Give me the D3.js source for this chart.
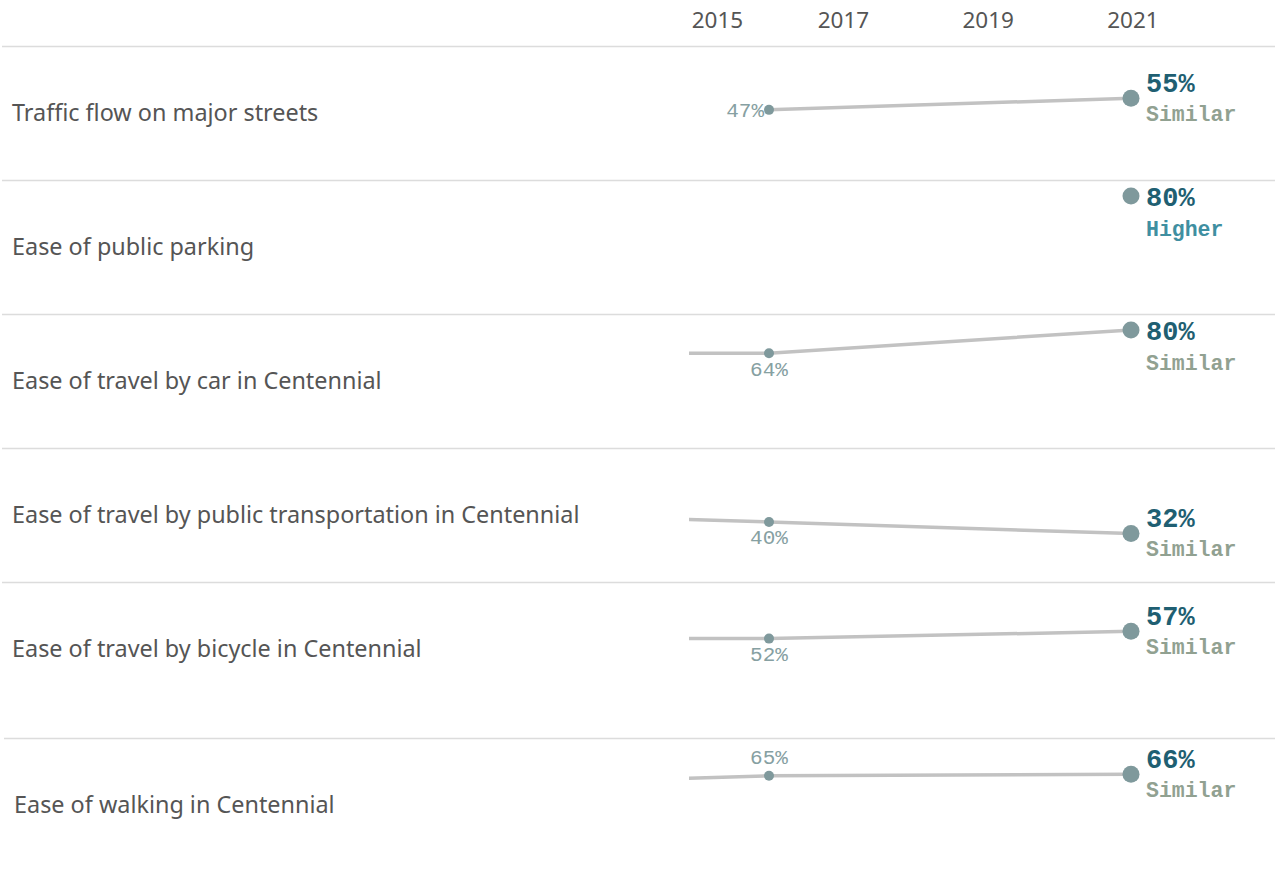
<!DOCTYPE html>
<html>
<head>
<meta charset="utf-8">
<script src="https://cdn.jsdelivr.net/npm/d3@7"></script>
<style>
  html, body { margin: 0; padding: 0; background: #fff; }
  svg { display: block; }
</style>
</head>
<body>
<svg id="chart" width="1275" height="871"></svg>
<script>
// data

const measures = [
  'Traffic flow on major streets',
  'Ease of public parking',
  'Ease of travel by car in Centennial',
  'Ease of travel by public transportation in Centennial',
  'Ease of travel by bicycle in Centennial',
  'Ease of walking in Centennial'
]
const years = [2014, 2016, 2021]
const values2014 = [null, null, 64, 43, 52, 62]
const values2016 = [47, null, 64, 40, 52, 65]
const values2021 = [55, 80, 80, 32, 57, 66]
const comparison = ['Similar', 'Higher', 'Similar', 'Similar', 'Similar', 'Similar']
const tickYears = [2015, 2017, 2019, 2021]

// layout

const W = 1275, H = 871
const HEADER = 46
const ROW_HEIGHTS = [134, 134, 134, 134, 156, 133]
const PLOT_H = 134
const PANE_LEFT = 689

const svg = d3.select('#chart')

const x = d3.scaleLinear()
  .domain([2016, 2021])
  .range([769, 1131])

let tops = []
ROW_HEIGHTS.reduce( (acc, h) => { tops.push(acc); return acc + h }, HEADER)

const fmt = (v) => v + '%'

svg.append('defs').append('clipPath').attr('id', 'pane')
  .append('rect').attr('x', PANE_LEFT).attr('y', 0).attr('width', W - PANE_LEFT).attr('height', H)

// header axis (labels pushed inside the pane when they would overflow it)
const axis = svg.append('g')
  .attr('transform', 'translate(0,' + 28 + ')')
  .attr('font-family', '"Noto Sans", sans-serif')
  .attr('font-size', 22.5)
  .attr('fill', '#555')

axis.selectAll('text')
  .data(tickYears)
  .join('text')
    .attr('x', (d) => Math.max(x(d) + 2, PANE_LEFT + 3 + 25.5))
    .attr('text-anchor', 'middle')
    .text((d) => d)

// separators
svg.append('g')
  .attr('stroke', '#dcdcdc')
  .attr('stroke-width', 1.5)
  .selectAll('line')
  .data(tops)
  .join('line')
    .attr('x1', (d, i) => i === tops.length - 1 ? 4 : 2)
    .attr('x2', W)
    .attr('y1', (d) => d + 0.5)
    .attr('y2', (d) => d + 0.5)

// rows
measures.forEach( (name, i) => {
  const top = tops[i]
  const y = d3.scaleLinear()
    .domain([0, 100])
    .range([top + PLOT_H - 2, top + PLOT_H - 2 - 145])

  const g = svg.append('g')

  g.append('text')
    .attr('x', i === measures.length - 1 ? 14 : 12)
    .attr('y', top + PLOT_H / 2)
    .attr('dy', '0.35em')
    .attr('font-family', '"Noto Sans", sans-serif')
    .attr('font-size', 23.4)
    .attr('fill', '#555')
    .text(name)

  const pts = [values2014[i], values2016[i], values2021[i]]
    .map( (v, k) => ({ year: years[k], value: v }) )
    .filter( (d) => d.value != null )

  const line = d3.line()
    .x((d) => x(d.year))
    .y((d) => y(d.value))

  g.append('path')
    .datum(pts)
    .attr('clip-path', 'url(#pane)')
    .attr('fill', 'none')
    .attr('stroke', '#c2c2c2')
    .attr('stroke-width', 3.5)
    .attr('d', line)

  // 2016 point and label
  const v16 = values2016[i]
  if (v16 != null) {
    const cx = x(2016), cy = y(v16)
    g.append('circle')
      .attr('cx', cx).attr('cy', cy).attr('r', 5)
      .attr('fill', '#7f999c')

    const prior = values2014[i]
    let lbl = g.append('text')
      .attr('font-family', '"Liberation Mono", monospace')
      .attr('font-size', 21)
      .attr('fill', '#86a0a2')
      .text(fmt(v16))
    if (prior == null) {
      lbl.attr('x', cx - 5).attr('y', cy).attr('dy', '0.35em').attr('text-anchor', 'end')
    } else if (prior < v16 - 1) {
      lbl.attr('x', cx).attr('y', cy - 19).attr('dy', '0.35em').attr('text-anchor', 'middle')
    } else {
      lbl.attr('x', cx).attr('y', cy + 15).attr('dy', '0.35em').attr('text-anchor', 'middle')
    }
  }

  // 2021 point and labels
  const v21 = values2021[i]
  const cx = x(2021), cy = y(v21)
  g.append('circle')
    .attr('cx', cx).attr('cy', cy).attr('r', 8.5)
    .attr('fill', '#7f999c')

  const ly = Math.max(cy - 16, top + 17)
  g.append('text')
    .attr('x', cx + 15)
    .attr('y', ly)
    .attr('dy', '0.35em')
    .attr('font-family', '"Liberation Mono", monospace')
    .attr('font-weight', 'bold')
    .attr('font-size', 27)
    .attr('fill', '#1f5f72')
    .text(fmt(v21))

  g.append('text')
    .attr('x', cx + 15)
    .attr('y', ly + 31)
    .attr('dy', '0.35em')
    .attr('font-family', '"Liberation Mono", monospace')
    .attr('font-weight', 'bold')
    .attr('font-size', 21.5)
    .attr('fill', comparison[i] === 'Higher' ? '#3f8fa1' : '#91a191')
    .text(comparison[i])
})
</script>
</body>
</html>
